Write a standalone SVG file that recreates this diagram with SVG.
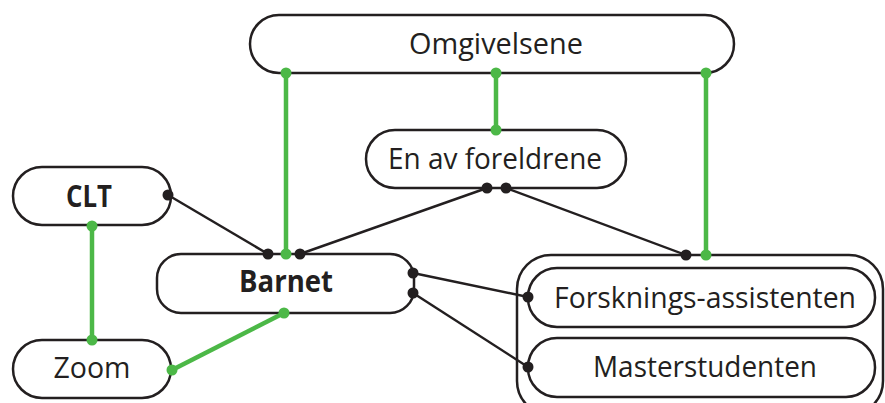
<svg xmlns="http://www.w3.org/2000/svg" width="885" height="403" viewBox="0 0 885 403">
<style>
.box{fill:#fff;stroke:#231f20;stroke-width:2.5}
.t{font-family:"Open Sans","Noto Sans",sans-serif;font-size:30px;fill:#231f20;text-anchor:middle}
.b{font-weight:bold}
.k{stroke:#231f20;stroke-width:2.4;fill:none}
.g{stroke:#4cb847;stroke-width:4.5;fill:none}
.kd{fill:#231f20}
.gd{fill:#4cb847}
</style>
<rect width="885" height="403" fill="#fff"/>
<g id="container">
<rect class="box" x="517" y="255" width="366" height="160" rx="34"/>
</g>
<g id="omgivelsene">
<rect class="box" x="250" y="15" width="484" height="58" rx="29"/>
<text class="t" x="496" y="54" textLength="174" lengthAdjust="spacingAndGlyphs">Omgivelsene</text>
</g>
<g id="foreldrene">
<rect class="box" x="366" y="130" width="260" height="58" rx="29"/>
<text class="t" x="495" y="169" textLength="214" lengthAdjust="spacingAndGlyphs">En av foreldrene</text>
</g>
<g id="clt">
<rect class="box" x="13" y="167" width="158" height="58" rx="29"/>
<text class="t b" x="89" y="207" textLength="46" lengthAdjust="spacingAndGlyphs">CLT</text>
</g>
<g id="barnet">
<rect class="box" x="157" y="254" width="257" height="59" rx="24"/>
<text class="t b" x="286" y="292" textLength="94" lengthAdjust="spacingAndGlyphs">Barnet</text>
</g>
<g id="zoom">
<rect class="box" x="13" y="340" width="158" height="58" rx="29"/>
<text class="t" x="92" y="378" textLength="77" lengthAdjust="spacingAndGlyphs">Zoom</text>
</g>
<g id="forsknings">
<rect class="box" x="528" y="268" width="347" height="59" rx="29"/>
<text class="t" x="705" y="308" textLength="302" lengthAdjust="spacingAndGlyphs">Forsknings-assistenten</text>
</g>
<g id="master">
<rect class="box" x="528" y="338" width="347" height="59" rx="29"/>
<text class="t" x="705" y="377" textLength="224" lengthAdjust="spacingAndGlyphs">Masterstudenten</text>
</g>
<g id="connectors">
<line class="k" x1="168" y1="195" x2="268" y2="254"/>
<line class="k" x1="487" y1="188" x2="300" y2="254"/>
<line class="k" x1="506" y1="188" x2="686" y2="255"/>
<line class="k" x1="413" y1="273" x2="528" y2="297"/>
<line class="k" x1="413" y1="293" x2="528" y2="367"/>
<line class="g" x1="286" y1="73" x2="286" y2="254"/>
<line class="g" x1="496" y1="73" x2="496" y2="130"/>
<line class="g" x1="706" y1="73" x2="706" y2="255"/>
<line class="g" x1="92" y1="226" x2="92" y2="340"/>
<line class="g" x1="172" y1="370" x2="284" y2="313"/>
<circle class="kd" cx="168" cy="195" r="5.5"/>
<circle class="kd" cx="268" cy="254" r="5.5"/>
<circle class="kd" cx="300" cy="254" r="5.5"/>
<circle class="kd" cx="487" cy="188" r="5.5"/>
<circle class="kd" cx="506" cy="188" r="5.5"/>
<circle class="kd" cx="686" cy="255" r="5.5"/>
<circle class="kd" cx="413" cy="273" r="5.5"/>
<circle class="kd" cx="413" cy="293" r="5.5"/>
<circle class="kd" cx="528" cy="297" r="5.5"/>
<circle class="kd" cx="528" cy="367" r="5.5"/>
<circle class="gd" cx="286" cy="73" r="5.5"/>
<circle class="gd" cx="496" cy="73" r="5.5"/>
<circle class="gd" cx="706" cy="73" r="5.5"/>
<circle class="gd" cx="496" cy="130" r="5.5"/>
<circle class="gd" cx="286" cy="254" r="5.5"/>
<circle class="gd" cx="706" cy="255" r="5.5"/>
<circle class="gd" cx="92" cy="226" r="5.5"/>
<circle class="gd" cx="92" cy="340" r="5.5"/>
<circle class="gd" cx="172" cy="370" r="5.5"/>
<circle class="gd" cx="284" cy="313" r="5.5"/>
</g>
</svg>
